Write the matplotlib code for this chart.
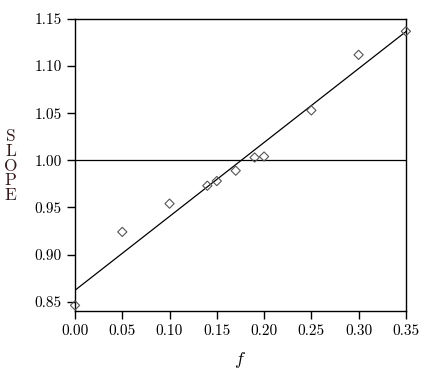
import numpy as np
import matplotlib
matplotlib.use("Agg")
import matplotlib.pyplot as plt

# data
f_vals = [0.00, 0.05, 0.10, 0.14, 0.15, 0.17, 0.19, 0.20, 0.25, 0.30, 0.35]
slope_vals = [0.846, 0.924, 0.954, 0.973, 0.978, 0.989, 1.003, 1.004, 1.053, 1.112, 1.137]
x_ticks = [0.00, 0.05, 0.10, 0.15, 0.20, 0.25, 0.30, 0.35]
y_ticks = [0.85, 0.90, 0.95, 1.00, 1.05, 1.10, 1.15]

plt.rcParams['font.family'] = ['cmr10', 'DejaVu Serif']
plt.rcParams['mathtext.fontset'] = 'cm'
plt.rcParams['axes.formatter.use_mathtext'] = True

fig = plt.figure(figsize=(4.25, 3.77), dpi=100)
ax = fig.add_axes([0.1765, 0.175, 0.7785, 0.7745])

# least squares line through the points
b, a = np.polyfit(f_vals, slope_vals, 1)
xx = np.array([0.0, 0.35])
ax.plot(xx, a + b * xx, color='black', lw=0.9)
ax.axhline(1.0, color='black', lw=0.9)

ax.scatter(f_vals, slope_vals, marker='D', s=22, facecolors='none',
           edgecolors='#555555', linewidths=0.8, clip_on=False, zorder=3)

ax.set_xlim(0, 0.35)
ax.set_ylim(0.84, 1.15)
ax.set_xticks(x_ticks)
ax.set_xticklabels([f"{v:.2f}" for v in x_ticks])
ax.set_yticks(y_ticks)
ax.set_yticklabels([f"{v:.2f}" for v in y_ticks])
ax.tick_params(direction='out', length=6, width=1, labelsize=11, top=False, right=False)
for s in ax.spines.values():
    s.set_linewidth(1)

ax.set_xlabel('$f$', fontsize=13, labelpad=9)
fig.text(0.025, 0.56, "S\nL\nO\nP\nE", fontsize=12.5, color='#3a1818',
         ha='center', va='center', linespacing=0.95)

fig.savefig('out.png', dpi=100)
